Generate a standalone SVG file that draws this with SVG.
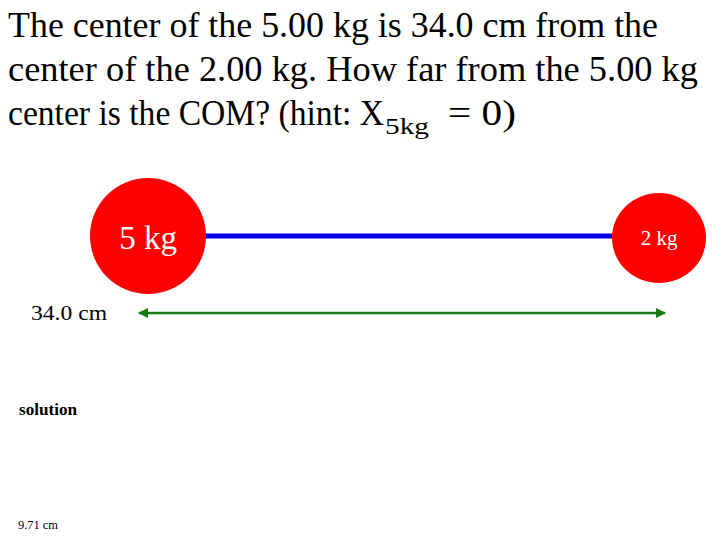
<svg xmlns="http://www.w3.org/2000/svg" width="720" height="540" viewBox="0 0 720 540">
<defs>
<style>
text,tspan{font-family:"Liberation Serif","Times New Roman",serif}
text{fill:#000}
.w{fill:#fff}
.ball{fill:#f00}
</style>
<marker id="ah" viewBox="0 0 10 10" refX="9" refY="5" markerWidth="4" markerHeight="4" orient="auto-start-reverse" markerUnits="strokeWidth">
<path d="M0,0 L10,5 L0,10 z" fill="#137a13"/>
</marker>
</defs>
<rect width="720" height="540" fill="#fff"/>
<g id="title" font-size="35">
<text x="8" y="37" textLength="650" lengthAdjust="spacingAndGlyphs">The center of the 5.00 kg is 34.0 cm from the</text>
<text x="8" y="81" textLength="690" lengthAdjust="spacingAndGlyphs">center of the 2.00 kg.  How far from the 5.00 kg</text>
<text y="125"><tspan x="8" textLength="376" lengthAdjust="spacingAndGlyphs">center is the COM? (hint: X</tspan><tspan x="385" y="134" font-size="24" textLength="44" lengthAdjust="spacingAndGlyphs">5kg</tspan><tspan x="448" y="125" textLength="68" lengthAdjust="spacingAndGlyphs">= 0)</tspan></text>
</g>
<g id="connectors">
<line x1="204" y1="236" x2="614" y2="236" stroke="#0000e6" stroke-width="5"/>
<line x1="139" y1="313" x2="665" y2="313" stroke="#137a13" stroke-width="2.5" marker-start="url(#ah)" marker-end="url(#ah)"/>
</g>
<g id="mass5">
<ellipse class="ball" cx="148" cy="236" rx="58" ry="58"/>
<text class="w" x="148" y="249" font-size="33" text-anchor="middle">5 kg</text>
</g>
<g id="mass2">
<ellipse class="ball" cx="659" cy="238" rx="47" ry="45"/>
<text class="w" x="659" y="245" font-size="21" text-anchor="middle">2 kg</text>
</g>
<g id="labels">
<text x="31" y="320" font-size="22" textLength="76" lengthAdjust="spacingAndGlyphs">34.0 cm</text>
<text x="19" y="415" font-size="16" font-weight="bold" fill="#222" textLength="58" lengthAdjust="spacingAndGlyphs">solution</text>
<text x="18" y="529" font-size="12" textLength="40" lengthAdjust="spacingAndGlyphs">9.71 cm</text>
</g>
</svg>
